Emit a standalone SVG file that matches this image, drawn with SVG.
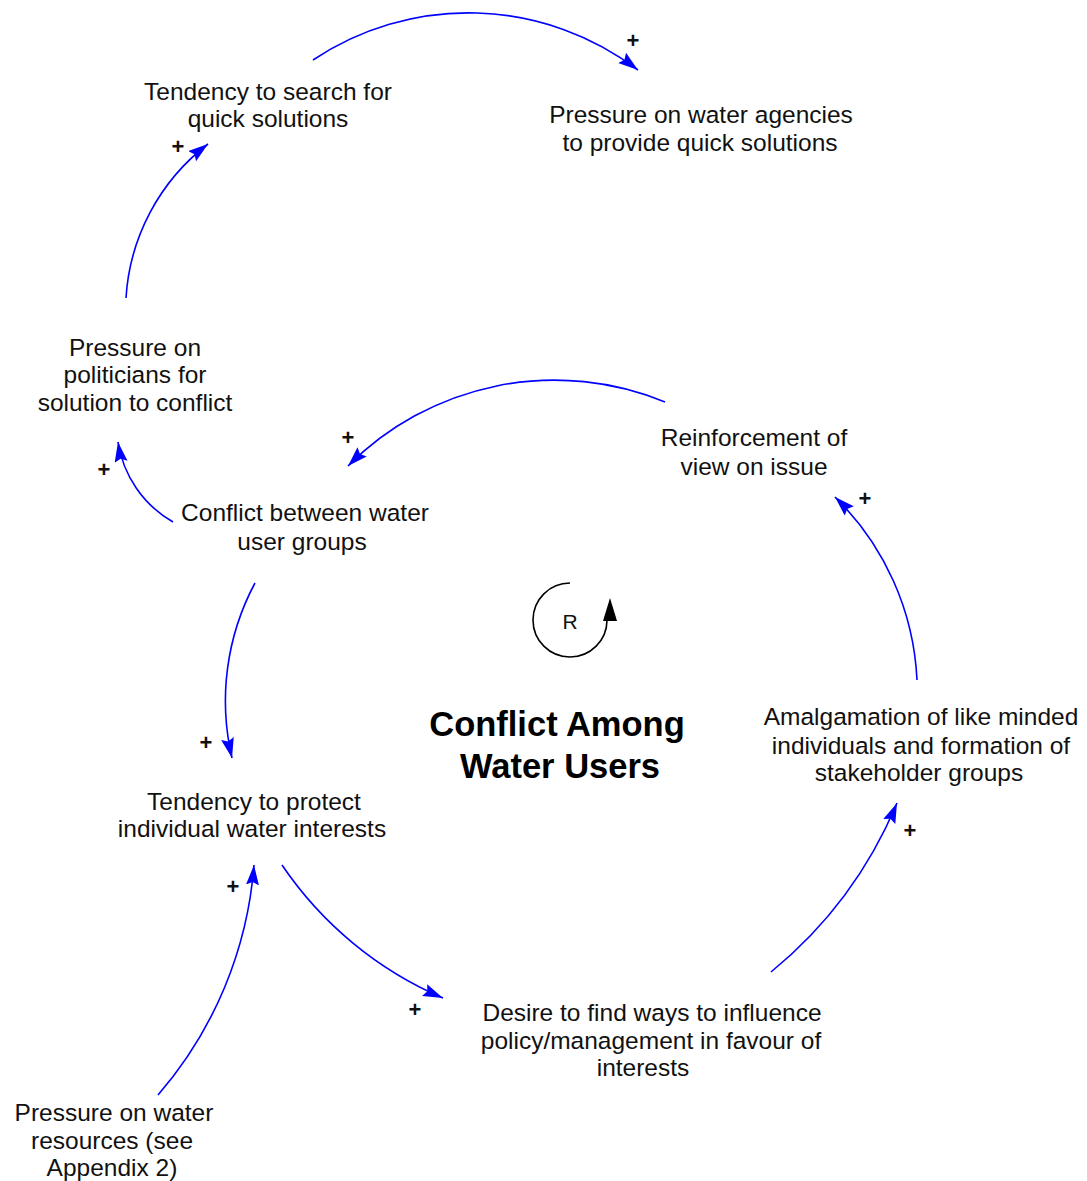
<svg xmlns="http://www.w3.org/2000/svg" width="1087" height="1181" viewBox="0 0 1087 1181">
<style>
.lbl{font-family:"Liberation Sans",Arial,sans-serif;font-size:24.5px;fill:#111;text-anchor:middle}
.ttl{font-family:"Liberation Sans",Arial,sans-serif;font-size:34.5px;font-weight:bold;fill:#000;text-anchor:middle}
.pol{font-family:"Liberation Sans",Arial,sans-serif;font-size:22px;font-weight:bold;fill:#111;text-anchor:middle}
.lnk{fill:none;stroke:#0000ff;stroke-width:1.6;marker-end:url(#ah)}
</style>
<defs>
<marker id="ah" markerUnits="userSpaceOnUse" markerWidth="22" markerHeight="14" refX="20" refY="6.5" orient="auto">
<path d="M0,0 L20,6.5 L0,13 L3,6.5 z" fill="#0000ff"/>
</marker>
</defs>
<rect width="1087" height="1181" fill="#fff"/>
<g id="connectors">
<path class="lnk" d="M313,60 A280,280 0 0 1 638,70"/>
<path class="lnk" d="M126,298 A210,210 0 0 1 208,144"/>
<path class="lnk" d="M173,522 A112,112 0 0 1 118,442"/>
<path class="lnk" d="M665,402 A291,291 0 0 0 348,466"/>
<path class="lnk" d="M255,583 A250,250 0 0 0 232,758"/>
<path class="lnk" d="M282,865 A371,371 0 0 0 443,998"/>
<path class="lnk" d="M158,1095 A398,398 0 0 0 254,865"/>
<path class="lnk" d="M771,972 A435,435 0 0 0 897,803"/>
<path class="lnk" d="M917,680 A274,274 0 0 0 835,497"/>
</g>
<g id="polarities">
<text class="pol" x="633" y="48">+</text>
<text class="pol" x="178" y="154">+</text>
<text class="pol" x="104" y="477">+</text>
<text class="pol" x="348" y="445">+</text>
<text class="pol" x="206" y="750">+</text>
<text class="pol" x="233" y="894">+</text>
<text class="pol" x="415" y="1017">+</text>
<text class="pol" x="910" y="838">+</text>
<text class="pol" x="865" y="506">+</text>
</g>
<g id="loop-R">
<path d="M570,583 A37,37 0 1 0 607,620" fill="none" stroke="#000" stroke-width="1.6"/>
<path d="M610,598 L617,621 L603,621 z" fill="#000"/>
<text x="570" y="629" style="font-family:'Liberation Sans',Arial,sans-serif;font-size:21px;fill:#111;text-anchor:middle">R</text>
</g>
<g id="title">
<text class="ttl" x="557" y="736">Conflict Among</text>
<text class="ttl" x="560" y="778">Water Users</text>
</g>
<g id="n-search">
<text class="lbl" x="268" y="100">Tendency to search for</text>
<text class="lbl" x="268" y="127">quick solutions</text>
</g>
<g id="n-agencies">
<text class="lbl" x="701" y="123">Pressure on water agencies</text>
<text class="lbl" x="700" y="151">to provide quick solutions</text>
</g>
<g id="n-politicians">
<text class="lbl" x="135" y="356">Pressure on</text>
<text class="lbl" x="135" y="383">politicians for</text>
<text class="lbl" x="135" y="411">solution to conflict</text>
</g>
<g id="n-conflict">
<text class="lbl" x="305" y="521">Conflict between water</text>
<text class="lbl" x="302" y="550">user groups</text>
</g>
<g id="n-reinforce">
<text class="lbl" x="754" y="446">Reinforcement of</text>
<text class="lbl" x="754" y="475">view on issue</text>
</g>
<g id="n-protect">
<text class="lbl" x="254" y="810">Tendency to protect</text>
<text class="lbl" x="252" y="837">individual water interests</text>
</g>
<g id="n-amalgamation">
<text class="lbl" x="921" y="725">Amalgamation of like minded</text>
<text class="lbl" x="921" y="754">individuals and formation of</text>
<text class="lbl" x="919" y="781">stakeholder groups</text>
</g>
<g id="n-desire">
<text class="lbl" x="652" y="1021">Desire to find ways to influence</text>
<text class="lbl" x="651" y="1049">policy/management in favour of</text>
<text class="lbl" x="643" y="1076">interests</text>
</g>
<g id="n-resources">
<text class="lbl" x="114" y="1121">Pressure on water</text>
<text class="lbl" x="112" y="1149">resources (see</text>
<text class="lbl" x="112" y="1176">Appendix 2)</text>
</g>
</svg>
